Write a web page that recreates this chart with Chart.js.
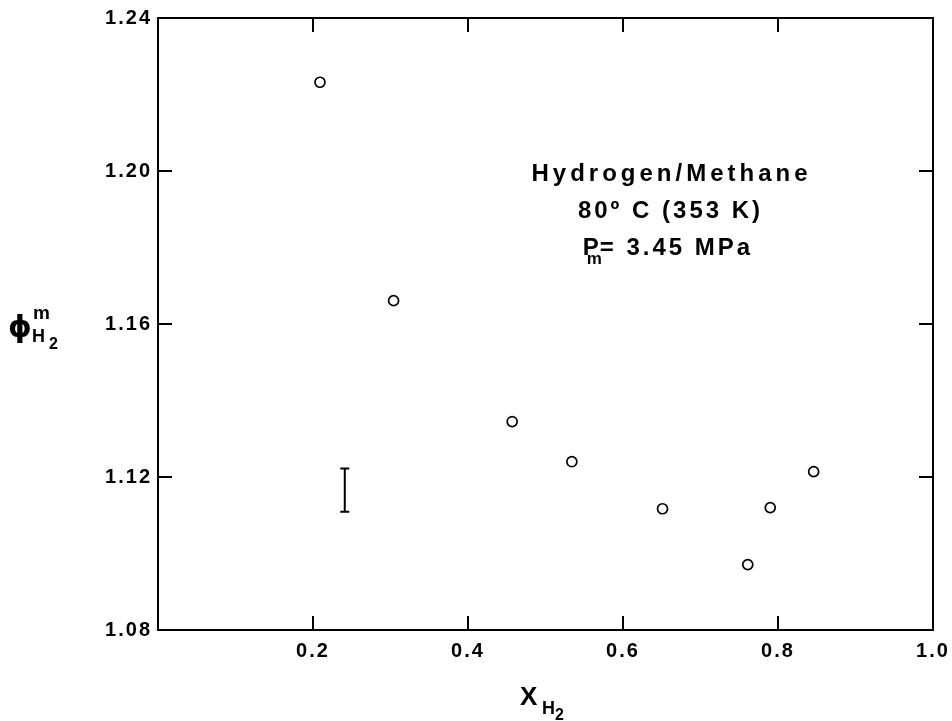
<!DOCTYPE html>
<html>
<head>
<meta charset="utf-8">
<script src="https://cdn.jsdelivr.net/npm/chart.js@4"></script>
<style>
  html, body { margin: 0; padding: 0; background: #fff; }
  canvas { display: block; }
</style>
</head>
<body>
<canvas id="phiChart" width="952" height="721"></canvas>
<script>
// mole fraction of hydrogen and the measured fugacity coefficient
const xH2 = [0.209, 0.304, 0.457, 0.534, 0.651, 0.761, 0.790, 0.846];
const phiH2 = [1.2232, 1.1661, 1.1345, 1.1240, 1.1117, 1.0971, 1.1120, 1.1214];

// the single error bar drawn at the left
const errX = [0.241];
const errLow = [1.1109];
const errHigh = [1.1222];

const xRange = [0, 1.0];
const yRange = [1.08, 1.24];

const noteLines = ['Hydrogen/Methane', '80º C (353 K)', '= 3.45 MPa'];

const FONT = "'Liberation Sans', Arial, Helvetica, sans-serif";

// frame, inward ticks, error bar, titles and note
const framePlugin = {
    id: 'frame',
    beforeDraw(chart) {
        chart.ctx.letterSpacing = '2px';
    },
    afterDatasetsDraw(chart) {
        const ctx = chart.ctx;
        const a = chart.chartArea;
        const xs = chart.scales.x;
        const ys = chart.scales.y;
        ctx.save();
        ctx.letterSpacing = '0px';
        ctx.strokeStyle = '#000';
        ctx.lineWidth = 2;
        ctx.strokeRect(a.left, a.top, a.right - a.left, a.bottom - a.top);

        const tick = 14;
        ctx.beginPath();
        xs.ticks.forEach(t => {
            if (t.value <= xRange[0] || t.value >= xRange[1]) return;
            const px = xs.getPixelForValue(t.value);
            ctx.moveTo(px, a.bottom); ctx.lineTo(px, a.bottom - tick);
            ctx.moveTo(px, a.top); ctx.lineTo(px, a.top + tick);
        });
        ys.ticks.forEach(t => {
            if (t.value <= yRange[0] + 1e-9 || t.value >= yRange[1] - 1e-9) return;
            const py = ys.getPixelForValue(t.value);
            ctx.moveTo(a.left, py); ctx.lineTo(a.left + tick, py);
            ctx.moveTo(a.right, py); ctx.lineTo(a.right - tick, py);
        });
        ctx.stroke();

        // error bar
        errX.forEach((x, i) => {
            const px = xs.getPixelForValue(x);
            const top = ys.getPixelForValue(errHigh[i]);
            const bot = ys.getPixelForValue(errLow[i]);
            ctx.beginPath();
            ctx.moveTo(px, top); ctx.lineTo(px, bot);
            ctx.moveTo(px - 4.5, top); ctx.lineTo(px + 4.5, top);
            ctx.moveTo(px - 4.5, bot); ctx.lineTo(px + 4.5, bot);
            ctx.stroke();
        });

        ctx.fillStyle = '#000';
        ctx.textBaseline = 'alphabetic';

        // note inside the plot
        const cx = a.left + 0.66 * (a.right - a.left);
        ctx.font = 'bold 24px ' + FONT;
        ctx.textAlign = 'center';
        ctx.letterSpacing = '4px';
        ctx.fillText(noteLines[0], cx + 2, a.top + 163);
        ctx.letterSpacing = '3px';
        ctx.fillText(noteLines[1], cx + 1, a.top + 200);
        ctx.textAlign = 'left';
        const w3 = ctx.measureText(noteLines[2]).width;
        const pW = 16;
        const startX = cx - (w3 + pW) / 2 - 2;
        ctx.letterSpacing = '0px';
        ctx.fillText('P', startX, a.top + 237);
        ctx.font = 'bold 17px ' + FONT;
        ctx.fillText('m', startX + 4, a.top + 246);
        ctx.font = 'bold 24px ' + FONT;
        ctx.letterSpacing = '3px';
        ctx.fillText(noteLines[2], startX + pW + 1, a.top + 237);

        // x axis title
        ctx.letterSpacing = '0px';
        ctx.font = 'bold 26px ' + FONT;
        ctx.fillText('X', 520, 705);
        ctx.font = 'bold 18px ' + FONT;
        ctx.fillText('H', 542, 714);
        ctx.font = 'bold 16px ' + FONT;
        ctx.fillText('2', 555, 720);

        // y axis title
        ctx.font = "bold 30px 'DejaVu Sans', sans-serif";
        ctx.fillText('\u03D5', 8, 337);
        ctx.font = 'bold 19px ' + FONT;
        ctx.fillText('m', 33, 319);
        ctx.font = 'bold 18px ' + FONT;
        ctx.fillText('H', 32, 342);
        ctx.font = 'bold 16px ' + FONT;
        ctx.fillText('2', 49, 349);
        ctx.restore();
    }
};

const tickFont = { family: FONT, size: 20, weight: 'bold' };

new Chart(document.getElementById('phiChart').getContext('2d'), {
    type: 'scatter',
    data: {
        datasets: [{
            data: xH2.map((x, i) => ({ x: x, y: phiH2[i] })),
            pointStyle: 'circle',
            pointRadius: 5,
            pointBorderWidth: 1.7,
            borderColor: '#000',
            backgroundColor: '#fff',
            showLine: false
        }]
    },
    options: {
        responsive: false,
        animation: false,
        layout: { padding: { top: 18, right: 19, left: 0, bottom: 0 } },
        plugins: {
            legend: { display: false },
            tooltip: { enabled: false }
        },
        scales: {
            x: {
                type: 'linear',
                min: xRange[0],
                max: xRange[1],
                grid: { display: false, drawTicks: false },
                border: { display: false },
                ticks: {
                    stepSize: 0.2,
                    color: '#000',
                    font: tickFont,
                    padding: 9,
                    maxRotation: 0,
                    callback: v => (v === 0 ? '' : v.toFixed(1))
                },
                afterFit: s => {
                    s.height = 91;
                    s.paddingLeft = 0;
                    s.paddingRight = 0;
                }
            },
            y: {
                type: 'linear',
                min: yRange[0],
                max: yRange[1],
                grid: { display: false, drawTicks: false },
                border: { display: false },
                ticks: {
                    stepSize: 0.04,
                    color: '#000',
                    font: tickFont,
                    padding: 6,
                    callback: v => v.toFixed(2)
                },
                afterFit: s => {
                    s.width = 158;
                    s.paddingTop = 0;
                    s.paddingBottom = 0;
                }
            }
        }
    },
    plugins: [framePlugin]
});
</script>
</body>
</html>
